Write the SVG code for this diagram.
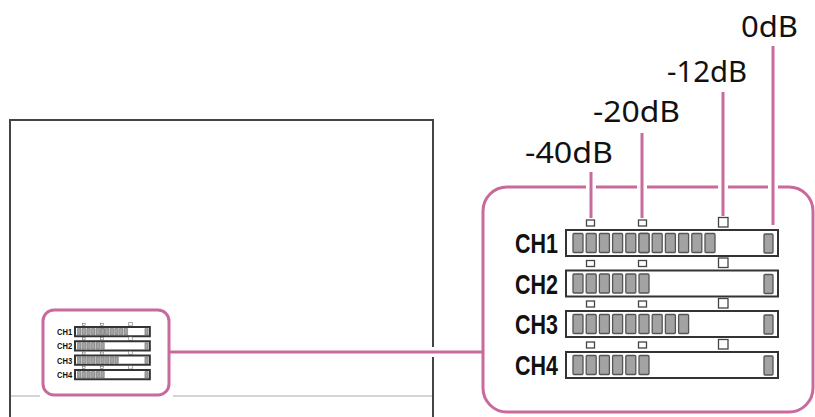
<svg xmlns="http://www.w3.org/2000/svg" xmlns:xlink="http://www.w3.org/1999/xlink" width="815" height="417" viewBox="0 0 815 417">
<style>
.pink{fill:none;stroke:#c96a9c;stroke-width:3}
.halo{fill:none;stroke:#fff;stroke-width:10}
.lbl{font-family:"Noto Sans","Liberation Sans",sans-serif;font-size:29px;fill:#111}
.ch{font-family:"Liberation Sans",Arial,sans-serif;font-weight:bold;font-size:28px;fill:#111}
.bar{fill:#fff;stroke:#333;stroke-width:2;vector-effect:non-scaling-stroke}
.seg{fill:#a3a3a3;stroke:#555;stroke-width:1.3}
.mk{fill:#fff;stroke:#444;stroke-width:1.3}
</style>
<defs>
<g id="segs6">
<rect class="seg" x="573" y="0" width="10" height="19" rx="1"/>
<rect class="seg" x="586.2" y="0" width="10" height="19" rx="1"/>
<rect class="seg" x="599.4" y="0" width="10" height="19" rx="1"/>
<rect class="seg" x="612.6" y="0" width="10" height="19" rx="1"/>
<rect class="seg" x="625.8" y="0" width="10" height="19" rx="1"/>
<rect class="seg" x="639" y="0" width="10" height="19" rx="1"/>
</g>
<g id="row">
<rect class="mk" x="586.5" y="-10" width="8" height="6"/>
<rect class="mk" x="638.5" y="-10" width="8" height="6"/>
<rect class="mk" x="718.5" y="-12.5" width="9.5" height="9.5"/>
<rect class="bar" x="566" y="0" width="212" height="26"/>
<rect class="seg" x="764" y="4" width="9" height="19" rx="1"/>
</g>
<g id="meters">
<use xlink:href="#row" transform="translate(0,230)"/>
<use xlink:href="#row" transform="translate(0,270.5)"/>
<use xlink:href="#row" transform="translate(0,311)"/>
<use xlink:href="#row" transform="translate(0,352)"/>
<use xlink:href="#segs6" transform="translate(0,233.5)"/>
<use xlink:href="#segs6" transform="translate(66,233.5)"/>
<use xlink:href="#segs6" transform="translate(0,274)"/>
<use xlink:href="#segs6" transform="translate(0,314.5)"/>
<rect class="seg" x="652.2" y="314.5" width="10" height="19" rx="1"/>
<rect class="seg" x="665.4" y="314.5" width="10" height="19" rx="1"/>
<rect class="seg" x="678.6" y="314.5" width="10" height="19" rx="1"/>
<use xlink:href="#segs6" transform="translate(0,355.5)"/>
<text class="ch" x="515" y="253" textLength="43" lengthAdjust="spacingAndGlyphs">CH1</text>
<text class="ch" x="515" y="293.5" textLength="43" lengthAdjust="spacingAndGlyphs">CH2</text>
<text class="ch" x="515" y="334" textLength="43" lengthAdjust="spacingAndGlyphs">CH3</text>
<text class="ch" x="515" y="375" textLength="43" lengthAdjust="spacingAndGlyphs">CH4</text>
</g>
</defs>
<rect width="815" height="417" fill="#fff"/>
<g id="screen">
<path d="M10,418 V120 H433 V418" fill="none" stroke="#444" stroke-width="2"/>
<path d="M11,396 H40 M173,396 H432" fill="none" stroke="#c8c8c8" stroke-width="1.5"/>
</g>
<g id="mini-meter">
<use xlink:href="#meters" transform="translate(-124.8,245.8) scale(0.353)"/>
<rect class="pink" x="43" y="310" width="126" height="85" rx="11"/>
</g>
<g id="meter-panel">
<rect class="pink" x="483" y="187" width="330" height="225" rx="24"/>
<use xlink:href="#meters"/>
</g>
<g id="connectors">
<path class="halo" d="M591,174 V216 M642,135 V216 M723,94 V214 M773,48 V223 M171,352 H481"/>
<path class="pink" d="M591,172 V218 M642,133 V218 M723,92 V216 M773,46 V225 M169,352 H483"/>
</g>
<g id="labels">
<text class="lbl" x="525" y="163" textLength="88" lengthAdjust="spacingAndGlyphs">-40dB</text>
<text class="lbl" x="593" y="122" textLength="87" lengthAdjust="spacingAndGlyphs">-20dB</text>
<text class="lbl" x="667" y="82" textLength="80" lengthAdjust="spacingAndGlyphs">-12dB</text>
<text class="lbl" x="741" y="37" textLength="57" lengthAdjust="spacingAndGlyphs">0dB</text>
</g>
</svg>
